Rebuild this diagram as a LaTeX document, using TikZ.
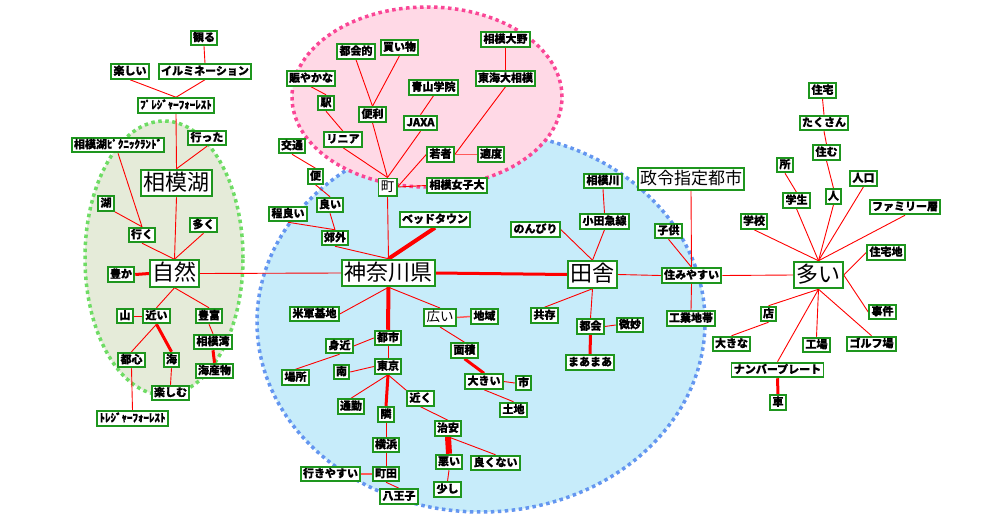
\documentclass[tikz,border=0pt]{standalone}
\usepackage{fontspec}
\setmainfont{Noto Sans CJK JP}
\newfontfamily\kwfont[FakeBold=0.6]{Noto Sans CJK JP}
\usetikzlibrary{backgrounds}
\definecolor{kwgreen}{RGB}{30,150,30}
\definecolor{lnkred}{RGB}{255,0,0}
\definecolor{grpgreen}{RGB}{229,235,217}
\definecolor{grpgreenline}{RGB}{110,220,100}
\definecolor{grppink}{RGB}{255,217,230}
\definecolor{grppinkline}{RGB}{250,70,150}
\definecolor{grpblue}{RGB}{199,236,250}
\definecolor{grpblueline}{RGB}{100,150,240}

\begin{document}
\begin{tikzpicture}[x=1pt,y=-1pt,
  kw/.style={draw=kwgreen, line width=1.9pt, fill=white, inner xsep=2.3pt, inner ysep=1.8pt,
    text height=8.8pt, text depth=2.2pt, font=\kwfont\bfseries\fontsize{11pt}{13pt}\selectfont},
  kwmid/.style={kw, text height=10.8pt, text depth=2.7pt, font=\fontsize{13.5pt}{15pt}\selectfont},
  kwlarge/.style={kw, inner ysep=2.3pt, text height=13.6pt, text depth=3.4pt, font=\fontsize{17pt}{19pt}\selectfont},
  kwbig/.style={kw, inner ysep=2.3pt, text height=18pt, text depth=4pt, font=\fontsize{22pt}{24pt}\selectfont},
  lnk/.style={draw=lnkred, line width=0.9pt},
  lnkthick/.style={lnk, line width=3pt},
  lnkpale/.style={lnk, draw=lnkred!65},
  grp/.style={line width=3.5pt, dash pattern=on 3.5pt off 3.5pt}
]
\useasboundingbox (0,0) rectangle (1000,519);

% groups
\begin{pgfonlayer}{background}
\fill[white] (0,0) rectangle (1000,519);
\draw[grp, draw=grpgreenline, fill=grpgreen] (164,258) ellipse [x radius=79pt, y radius=137pt];
\draw[grp, draw=grpblueline, fill=grpblue] (481,322) ellipse [x radius=224pt, y radius=190pt];
\draw[grp, draw=grppinkline, fill=grppink] (427,97) ellipse [x radius=135pt, y radius=90pt];
\end{pgfonlayer}

% left
\node[kw] (miru) at (204,38) {観る};
\node[kw] (tanoshii) at (130,71.5) {楽しい};
\node[kw] (illumi) at (205,71.5) {イルミネーション};
\node[kw] (pleasure) at (176,105.5) {ﾌﾟﾚｼﾞｬｰﾌｫｰﾚｽﾄ};
\node[kw] (picnic) at (118,145) {相模湖ﾋﾟｸﾆｯｸﾗﾝﾄﾞ};
\node[kw] (itta) at (207,138) {行った};
\node[kwbig] (sagamiko) at (176.5,183) {相模湖};
\node[kw] (mizuumi) at (106,203.5) {湖};
\node[kw] (iku) at (142,235) {行く};
\node[kw] (ooku) at (203.5,225) {多く};
\node[kwbig] (shizen) at (174.5,273.5) {自然};
\node[kw] (yutaka) at (121,274.5) {豊か};
\node[kw] (yama) at (125,316) {山};
\node[kw] (chikai) at (156.5,316) {近い};
\node[kw] (hofu) at (209,316) {豊富};
\node[kw] (sagamiwan) at (213,342) {相模湾};
\node[kw] (toshin) at (131.5,360) {都心};
\node[kw] (umi) at (171.5,360) {海};
\node[kw] (kaisanbutsu) at (214.5,371) {海産物};
\node[kw] (tanoshimu) at (170.5,393) {楽しむ};
\node[kw] (treasure) at (132.5,418.5) {ﾄﾚｼﾞｬｰﾌｫｰﾚｽﾄ};

% top
\node[kw] (ono) at (505.5,39.5) {相模大野};
\node[kw] (tokaiteki) at (356,51.5) {都会的};
\node[kw] (kaimono) at (399.5,47.5) {買い物};
\node[kw] (nigiyaka) at (311,78.5) {賑やかな};
\node[kw] (tokaidai) at (505.5,78.5) {東海大相模};
\node[kw] (aoyama) at (433.5,87.5) {青山学院};
\node[kw] (eki) at (326,103) {駅};
\node[kw] (benri) at (372.5,114.5) {便利};
\node[kw] (jaxa) at (420.5,123) {JAXA};
\node[kw] (linear) at (343,139.5) {リニア};
\node[kw] (kotsu) at (292,146) {交通};
\node[kw] (wakamono) at (440.5,154.5) {若者};
\node[kw] (tekido) at (491,154.5) {適度};
\node[kw] (bin) at (315.5,176.5) {便};
\node[kwmid] (machi) at (387.5,187) {町};
\node[kw] (joshidai) at (457,185.5) {相模女子大};

% middle
\node[kw] (yoi) at (330,205) {良い};
\node[kw] (hodoyoi) at (288,214) {程良い};
\node[kw] (bedtown) at (435,219.5) {ベッドタウン};
\node[kw] (kogai) at (335,238) {郊外};
\node[kwbig] (kanagawa) at (388.5,273) {神奈川県};
\node[kw] (beigun) at (314.5,314) {米軍基地};
\node[kwmid] (hiroi) at (440,317.5) {広い};
\node[kw] (chiiki) at (484.5,316.5) {地域};
\node[kw] (toshi) at (388,338) {都市};
\node[kw] (mijika) at (339.5,346) {身近};
\node[kw] (menseki) at (464.5,350.5) {面積};
\node[kw] (minami) at (341.5,372) {南};
\node[kw] (tokyo) at (388,366.5) {東京};
\node[kw] (basho) at (295.5,377.5) {場所};
\node[kw] (ookii) at (484,381.5) {大きい};
\node[kw] (shi) at (523.5,383) {市};
\node[kw] (tsukin) at (351,406.5) {通勤};
\node[kw] (chikaku) at (420.5,398.5) {近く};
\node[kw] (tochi) at (513.5,410) {土地};
\node[kw] (tonari) at (386,414.5) {隣};
\node[kw] (chian) at (448,428.5) {治安};
\node[kw] (yokohama) at (386,445) {横浜};
\node[kw] (warui) at (449,462) {悪い};
\node[kw] (yokunai) at (495.5,463) {良くない};
\node[kw] (ikiyasui) at (330.5,474) {行きやすい};
\node[kw] (machida) at (386,474) {町田};
\node[kw] (sukoshi) at (447.5,489.5) {少し};
\node[kw] (hachioji) at (399,496.5) {八王子};
\node[kw] (sagamigawa) at (603,181) {相模川};
\node[kwlarge] (seirei) at (691,179) {政令指定都市};
\node[kw] (odakyu) at (604.5,221.5) {小田急線};
\node[kw] (nonbiri) at (535.5,229.5) {のんびり};
\node[kw] (kodomo) at (668.5,231) {子供};
\node[kwbig] (inaka) at (592.5,274.5) {田舎};
\node[kw] (sumiyasui) at (691.5,275.5) {住みやすい};
\node[kw] (kyozon) at (544.5,315.5) {共存};
\node[kw] (kogyo) at (691,318.5) {工業地帯};
\node[kw] (tokai) at (590.5,326.5) {都会};
\node[kw] (bimyo) at (630,325) {微妙};
\node[kw] (maamaa) at (590,362.5) {まあまあ};

% right
\node[kw] (jutaku) at (822.5,90.5) {住宅};
\node[kw] (takusan) at (824,123) {たくさん};
\node[kw] (sumu) at (826.5,152.5) {住む};
\node[kw] (tokoro) at (785,165) {所};
\node[kw] (jinko) at (863.5,178.5) {人口};
\node[kw] (hito) at (833.5,196.5) {人};
\node[kw] (gakusei) at (796.5,200.5) {学生};
\node[kw] (family) at (905,207) {ファミリー層};
\node[kw] (gakko) at (754,221.5) {学校};
\node[kw] (jutakuchi) at (886,252.5) {住宅地};
\node[kwbig] (ooi) at (818.5,275) {多い};
\node[kw] (mise) at (768.5,314) {店};
\node[kw] (jiken) at (882.5,312) {事件};
\node[kw] (ookina) at (731.5,344) {大きな};
\node[kw] (kojo) at (816.5,345) {工場};
\node[kw] (golf) at (871.5,344) {ゴルフ場};
\node[kw] (number) at (777.5,370) {ナンバープレート};
\node[kw] (kuruma) at (778,402.5) {車};

% links
\begin{pgfonlayer}{background}
\draw[lnk] (miru.south) -- (illumi.north);
\draw[lnk] (tanoshii.south) -- (pleasure.north);
\draw[lnk] (illumi.south) -- (pleasure.north);
\draw[lnk] (pleasure.south) -- (sagamiko.north);
\draw[lnk] (itta.south) -- (sagamiko.north);
\draw[lnk] (picnic.south) -- (iku.north);
\draw[lnk] (mizuumi.south east) -- (iku.north);
\draw[lnk] (iku.south) -- (shizen.north);
\draw[lnk] (ooku.south) -- (shizen.north);
\draw[lnk] (sagamiko.south) -- (shizen.north);
\draw[lnkthick] (yutaka.east) -- (shizen.west);
\draw[lnk] (shizen.east) -- (kanagawa.west);
\draw[lnk] (shizen.south) -- (chikai.north);
\draw[lnk] (shizen.south) -- (hofu.north);
\draw[lnk] (yama.east) -- (chikai.west);
\draw[lnk] (chikai.south) -- (toshin.north);
\draw[lnkthick] (chikai.south) -- (umi.north);
\draw[lnk] (hofu.south) -- (sagamiwan.north);
\draw[lnkthick] (sagamiwan.south) -- (kaisanbutsu.north);
\draw[lnk] (umi.south) -- (tanoshimu.north);
\draw[lnk] (toshin.south) -- (treasure.north);

\draw[lnk] (ono.south) -- (tokaidai.north);
\draw[lnk] (tokaidai.south) -- (wakamono.east);
\draw[lnkpale] (tekido.west) -- (wakamono.east);
\draw[lnk] (tokaiteki.south) -- (benri.north);
\draw[lnk] (kaimono.south) -- (benri.north);
\draw[lnk] (nigiyaka.south) -- (eki.north);
\draw[lnk] (eki.south) -- (linear.north);
\draw[lnk] (linear.south) -- (machi.north);
\draw[lnk] (benri.south) -- (machi.north);
\draw[lnk] (jaxa.south) -- (machi.north);
\draw[lnk] (aoyama.south) -- (jaxa.north);
\draw[lnk] (wakamono.west) -- (machi.east);
\draw[lnk] (joshidai.west) -- (machi.east);
\draw[lnk] (kotsu.south) -- (bin.north);
\draw[lnk] (bin.south) -- (yoi.north);
\draw[lnk] (machi.south) -- (kanagawa.north);

\draw[lnk] (yoi.south) -- (kogai.north);
\draw[lnk] (hodoyoi.south) -- (kogai.north);
\draw[lnk] (kogai.south) -- (kanagawa.north);
\draw[lnkthick, line width=4pt] (bedtown.south) -- (kanagawa.north);
\draw[lnkthick] (kanagawa.east) -- (inaka.west);
\draw[lnk] (kanagawa.south) -- (beigun.east);
\draw[lnk] (kanagawa.south) -- (hiroi.north);
\draw[lnkthick, line width=4pt] (kanagawa.south) -- (toshi.north);
\draw[lnkpale, line width=1.5pt] (hiroi.east) -- (chiiki.west);
\draw[lnk] (hiroi.south) -- (menseki.north);
\draw[lnk] (toshi.west) -- (mijika.east);
\draw[lnk] (mijika.south) -- (basho.north);
\draw[lnk] (toshi.south) -- (tokyo.north);
\draw[lnk] (minami.east) -- (tokyo.west);
\draw[lnk] (tokyo.south) -- (tsukin.north);
\draw[lnkthick] (tokyo.south) -- (tonari.north);
\draw[lnk] (tokyo.south) -- (chikaku.north west);
\draw[lnk] (chikaku.south) -- (chian.north);
\draw[lnk] (tonari.south) -- (yokohama.north);
\draw[lnk] (yokohama.south) -- (machida.north);
\draw[lnkpale, line width=2pt] (ikiyasui.east) -- (machida.west);
\draw[lnk] (machida.south) -- (hachioji.north);
\draw[lnkthick] (menseki.south) -- (ookii.north);
\draw[lnk] (ookii.east) -- (shi.west);
\draw[lnk] (ookii.south) -- (tochi.north);
\draw[lnkthick, line width=6pt] (chian.south) -- (warui.north);
\draw[lnk] (chian.south) -- (yokunai.north);
\draw[lnk] (warui.south) -- (sukoshi.north);
\draw[lnk] (sagamigawa.south) -- (odakyu.north);
\draw[lnk] (odakyu.south) -- (inaka.north);
\draw[lnk] (nonbiri.east) -- (inaka.north);
\draw[lnk] (inaka.east) -- (sumiyasui.west);
\draw[lnk] (kodomo.south) -- (sumiyasui.north);
\draw[lnk] (seirei.south) -- (sumiyasui.north);
\draw[lnk] (sumiyasui.south) -- (kogyo.north);
\draw[lnk] (sumiyasui.east) -- (ooi.west);
\draw[lnk] (inaka.south) -- (kyozon.north);
\draw[lnk] (inaka.south) -- (tokai.north);
\draw[lnk] (tokai.east) -- (bimyo.west);
\draw[lnkthick] (tokai.south) -- (maamaa.north);

\draw[lnk] (jutaku.south) -- (takusan.north);
\draw[lnk] (takusan.south) -- (sumu.north);
\draw[lnk] (sumu.south) -- (hito.north);
\draw[lnk] (hito.south) -- (ooi.north);
\draw[lnk] (tokoro.south) -- (gakusei.north);
\draw[lnk] (gakusei.south) -- (ooi.north);
\draw[lnk] (jinko.south) -- (ooi.north);
\draw[lnk] (family.south) -- (ooi.north);
\draw[lnk] (gakko.south) -- (ooi.north);
\draw[lnk] (jutakuchi.west) -- (ooi.east);
\draw[lnk] (ooi.east) -- (jiken.west);
\draw[lnk] (ooi.south) -- (mise.north);
\draw[lnk] (mise.south) -- (ookina.north);
\draw[lnk] (ooi.south) -- (kojo.north);
\draw[lnk] (ooi.south) -- (golf.north);
\draw[lnk] (ooi.south) -- (number.north);
\draw[lnkthick] (number.south) -- (kuruma.north);
\end{pgfonlayer}
\end{tikzpicture}
\end{document}
